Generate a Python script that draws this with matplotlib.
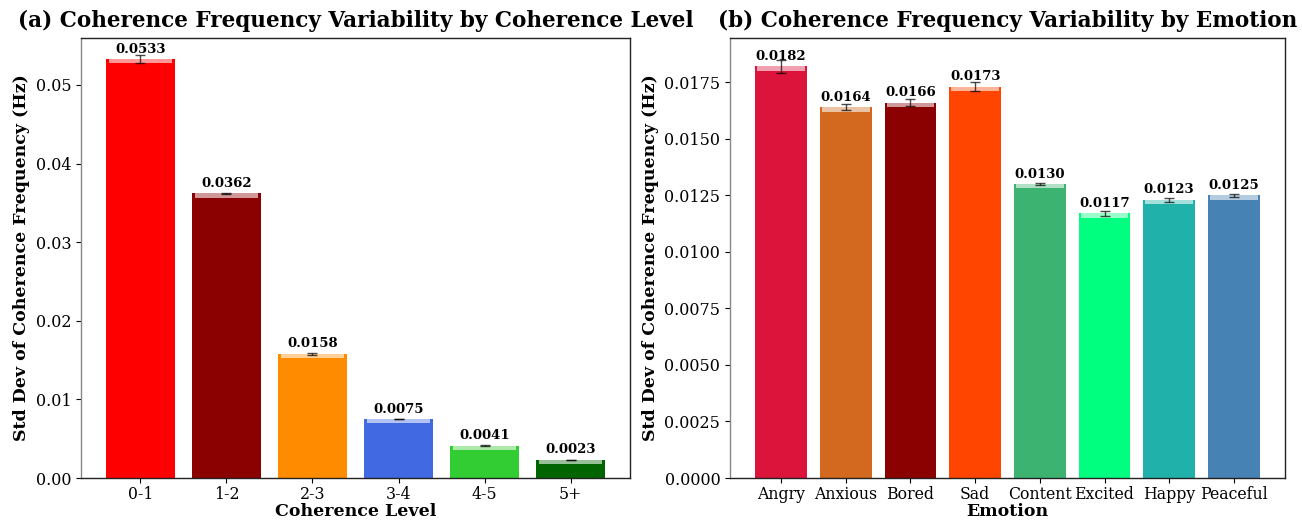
import matplotlib
matplotlib.use("Agg")
import matplotlib.pyplot as plt
import numpy as np

plt.rcParams['font.family'] = ['DejaVu Serif']

# Panel (a): coherence level
levels = ['0-1', '1-2', '2-3', '3-4', '4-5', '5+']
level_std = [0.0533, 0.0362, 0.0158, 0.0075, 0.0041, 0.0023]
level_err = [0.0005, 0.0001, 0.0001, 0.00005, 0.00005, 0.00005]
level_colors = ['#FF0000', '#8B0000', '#FF8C00', '#4169E1', '#32CD32', '#006400']

# Panel (b): emotion
emotions = ['Angry', 'Anxious', 'Bored', 'Sad', 'Content', 'Excited', 'Happy', 'Peaceful']
emotion_std = [0.0182, 0.0164, 0.0166, 0.0173, 0.0130, 0.0117, 0.0123, 0.0125]
emotion_err = [0.00027, 0.00013, 0.00015, 0.0002, 0.00005, 0.00013, 0.00008, 0.00005]
emotion_colors = ['#DC143C', '#D2691E', '#8B0000', '#FF4500', '#3CB371', '#00FF7F', '#20B2AA', '#4682B4']

fig = plt.figure(figsize=(13.02, 5.21), dpi=100)
ax1 = fig.add_axes([0.0622, 0.0825, 0.4217, 0.845])
ax2 = fig.add_axes([0.5607, 0.0825, 0.4262, 0.845])


def draw_panel(ax, names, vals, errs, colors, ytop, title, xlabel):
    x = np.arange(len(names))
    vals = np.asarray(vals)
    ax.bar(x, vals, width=0.8, color=colors, zorder=2)
    # light sheen along the top of each bar
    band = 0.010 * ytop
    ax.bar(x, band, bottom=vals - band, width=0.74, color='white', alpha=0.6, zorder=3)
    ax.errorbar(x, vals, yerr=errs, fmt='none', ecolor='black', alpha=0.7,
                elinewidth=1, capsize=3.5, capthick=1, zorder=4)
    for xi, v in zip(x, vals):
        ax.annotate(f'{v:.4f}', (xi, v), xytext=(0, 2.5), textcoords='offset points',
                    ha='center', va='bottom', fontsize=9.5, fontweight='bold', zorder=5)
    ax.set_xticks(x)
    ax.set_xticklabels(names, fontsize=11.3)
    ax.tick_params(axis='x', pad=2)
    ax.tick_params(axis='y', labelsize=11.5)
    ax.set_ylim(0, ytop)
    ax.set_title(title, fontsize=15.5, fontweight='bold', pad=8)
    ax.set_xlabel(xlabel, fontsize=12.5, fontweight='bold', labelpad=0)
    ax.set_ylabel('Std Dev of Coherence Frequency (Hz)', fontsize=12.5, fontweight='bold')
    for s in ax.spines.values():
        s.set_color('#222222')
        s.set_linewidth(1.0)
    ax.spines['left'].set_color('#888888')


draw_panel(ax1, levels, level_std, level_err, level_colors, 0.0560,
           '(a) Coherence Frequency Variability by Coherence Level', 'Coherence Level')
draw_panel(ax2, emotions, emotion_std, emotion_err, emotion_colors, 0.01947,
           '(b) Coherence Frequency Variability by Emotion', 'Emotion')
ax1.set_yticks(np.arange(0, 0.051, 0.01))
ax2.set_yticks(np.arange(0, 0.0176, 0.0025))
ax2.yaxis.set_major_formatter(matplotlib.ticker.FormatStrFormatter('%.4f'))

fig.savefig('out.png', dpi=100)
